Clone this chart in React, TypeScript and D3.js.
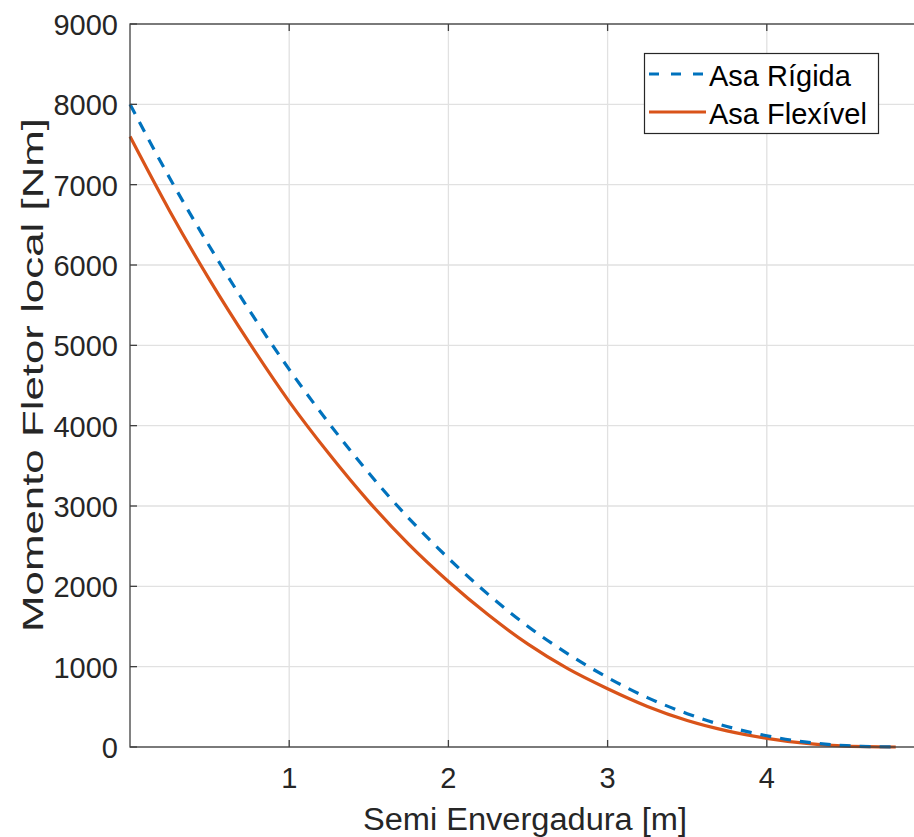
import React from "react";
import * as d3 from "d3";

const spanPositions = [0, 0.25, 0.5, 0.75, 1, 1.25, 1.5, 1.75, 2, 2.25, 2.5, 2.75, 3, 3.25, 3.5, 3.75, 4, 4.25, 4.5, 4.81];
const rigidMoment = [8000, 7080, 6230, 5435, 4700, 4030, 3410, 2850, 2350, 1900, 1500, 1160, 865, 615, 415, 255, 140, 60, 16, 0];
const flexibleMoment = [7600, 6670, 5815, 5030, 4300, 3650, 3055, 2525, 2060, 1645, 1280, 975, 725, 505, 330, 200, 108, 44, 10, 0];
const xTicks = [1, 2, 3, 4];
const yTicks = [0, 1000, 2000, 3000, 4000, 5000, 6000, 7000, 8000, 9000];
const seriesNames = ["Asa Rígida", "Asa Flexível"];

const W = 914;
const H = 837;
const FONT = "'Liberation Sans', Arial, Helvetica, sans-serif";
const TXT = "#262626";

export default function App() {
  const x = d3.scaleLinear().domain([0, 5]).range([130, 926]);
  const y = d3.scaleLinear().domain([0, 9000]).range([747, 24]);
  const [x0, x1] = x.range();
  const [y0, y1] = y.range();

  const line = d3
    .line<number>()
    .x((_, i) => x(spanPositions[i]))
    .y((d) => y(d))
    .curve(d3.curveMonotoneX);

  const blue = "#0072BD";
  const orange = "#D95319";
  const tick = 7;

  return (
    <svg
      width={W}
      height={H}
      style={{ position: "absolute", left: 0, top: 0, background: "#fff" }}
    >
      <rect x={0} y={0} width={W} height={H} fill="#fff" />
      <rect x={x0} y={y1} width={x1 - x0} height={y0 - y1} fill="#fff" />
      {/* grid */}
      <g stroke="#e1e1e1" strokeWidth={1.3}>
        {xTicks.map((t) => (
          <line key={"gx" + t} x1={x(t)} x2={x(t)} y1={y0} y2={y1} />
        ))}
        {yTicks.map((t) => (
          <line key={"gy" + t} x1={x0} x2={x1} y1={y(t)} y2={y(t)} />
        ))}
      </g>
      {/* lines */}
      <path d={line(flexibleMoment) || ""} fill="none" stroke={orange} strokeWidth={3.2} />
      <path
        d={line(rigidMoment) || ""}
        fill="none"
        stroke={blue}
        strokeWidth={3.2}
        strokeDasharray="11,9"
      />
      {/* axes box */}
      <g stroke="#404040" strokeWidth={1.3} fill="none">
        <rect x={x0} y={y1} width={x1 - x0} height={y0 - y1} />
        {xTicks.map((t) => (
          <g key={"tx" + t}>
            <line x1={x(t)} x2={x(t)} y1={y0} y2={y0 - tick} />
            <line x1={x(t)} x2={x(t)} y1={y1} y2={y1 + tick} />
          </g>
        ))}
        {yTicks.map((t) => (
          <line key={"ty" + t} x1={x0} x2={x0 + tick} y1={y(t)} y2={y(t)} />
        ))}
      </g>
      {/* tick labels */}
      <g fontFamily={FONT} fontSize={29} fill={TXT}>
        {xTicks.map((t) => (
          <text key={"lx" + t} x={x(t)} y={y0 + 41} textAnchor="middle">
            {t}
          </text>
        ))}
        {yTicks.map((t) => (
          <text key={"ly" + t} x={x0 - 12} y={y(t) + 11} textAnchor="end">
            {t}
          </text>
        ))}
      </g>
      {/* axis labels */}
      <text
        x={525}
        y={830}
        textAnchor="middle"
        fontFamily={FONT}
        fontSize={31}
        fill={TXT}
        textLength={324}
        lengthAdjust="spacingAndGlyphs"
      >
        Semi Envergadura [m]
      </text>
      <text
        transform={`translate(43,375) rotate(-90)`}
        textAnchor="middle"
        fontFamily={FONT}
        fontSize={29}
        fill={TXT}
        textLength={514}
        lengthAdjust="spacingAndGlyphs"
      >
        Momento Fletor local [Nm]
      </text>
      {/* legend */}
      <g>
        <rect x={644.5} y={53.5} width={234} height={80} fill="#fff" stroke="#262626" strokeWidth={1.2} />
        <line x1={649} x2={706} y1={74} y2={74} stroke={blue} strokeWidth={3.2} strokeDasharray="10,12" />
        <line x1={649} x2={706} y1={112} y2={112} stroke={orange} strokeWidth={3.2} />
        <text x={709} y={86} fontFamily={FONT} fontSize={29} fill="#000">
          {seriesNames[0]}
        </text>
        <text x={709} y={124} fontFamily={FONT} fontSize={29} fill="#000">
          {seriesNames[1]}
        </text>
      </g>
    </svg>
  );
}
